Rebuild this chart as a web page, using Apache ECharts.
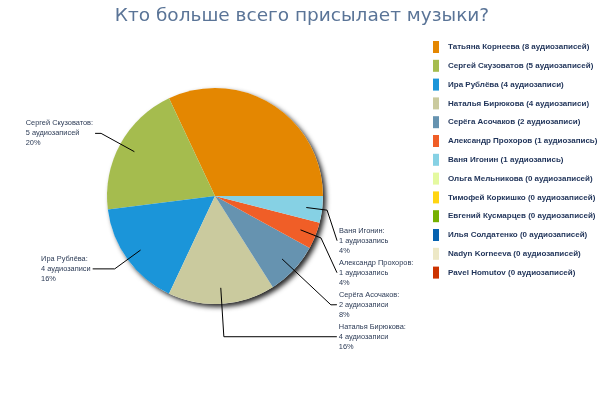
<!DOCTYPE html>
<html><head><meta charset="utf-8">
<script src="https://cdn.jsdelivr.net/npm/echarts@6/dist/echarts.min.js"></script>
<style>html,body{margin:0;padding:0;background:#fff}#c{width:604px;height:393px}</style>
</head><body><div id="c"></div>
<script>
const titleText = 'Кто больше всего присылает музыки?';
const names = ['Татьяна Корнеева','Сергей Скузоватов','Ира Рублёва','Наталья Бирюкова','Серёга Асочаков','Александр Прохоров','Ваня Игонин','Ольга Мельникова','Тимофей Коркишко','Евгений Кусмарцев','Илья Солдатенко','Nadyn Korneeva','Pavel Homutov'];
const counts = [8,5,4,4,2,1,1,0,0,0,0,0,0];
const colors = ['#E48701','#A5BC4E','#1B95D9','#CACA9E','#6693B0','#F05E27','#86D1E4','#E4F9A0','#FFD512','#75B000','#0662B0','#EDE8C6','#CC3300'];
const hiddenLabels = ['Татьяна Корнеева'];

function word(n){
  const m10 = n % 10, m100 = n % 100;
  if (m10 === 1 && m100 !== 11) return 'аудиозапись';
  if (m10 >= 2 && m10 <= 4 && (m100 < 10 || m100 >= 20)) return 'аудиозаписи';
  return 'аудиозаписей';
}

// label line styling (first segment, second segment lengths)
const lineLen = {
  'Сергей Скузоватов':[38,6], 'Ира Рублёва':[32,22], 'Наталья Бирюкова':[49,113],
  'Серёга Асочаков':[67,6], 'Александр Прохоров':[22,16], 'Ваня Игонин':[21,10]
};

const C = [215, 196], R = 108, RL = 92;
const placed = {};
function layoutLabel(p){
  const pts = p.labelLinePoints;
  if (!pts || pts.length < 3) return {};
  const right = pts[2][0] > pts[0][0];
  const prev = placed[p.dataIndex - 1];
  let y = pts[2][1];
  if (right && prev && prev.right) y = prev.y - (p.labelRect.height + 5);
  placed[p.dataIndex] = {y: y, right: right};
  return {y: y, labelLinePoints: [pts[0], pts[1], [pts[2][0], y]]};
}

const mainData = names.map((n, i) => ({name: n, value: counts[i]}));
const labelData = names.map((n, i) => ({name: n, value: counts[i]}))
  .filter(d => d.value > 0)
  .map(d => {
    const hide = hiddenLabels.indexOf(d.name) >= 0;
    const ll = lineLen[d.name] || [20, 10];
    return Object.assign(d, {
      label: {show: !hide},
      labelLine: {show: !hide, length: ll[0], length2: ll[1]}
    });
  });

const chart = echarts.init(document.getElementById('c'), null, {renderer: 'canvas'});
chart.setOption({
  animation: false,
  color: colors,
  title: {
    text: titleText, left: 'center', top: 2,
    textStyle: {fontFamily: 'DejaVu Sans', fontSize: 18.5, fontWeight: 'normal', color: '#5a7497'}
  },
  legend: {
    orient: 'vertical', left: 433, top: 41, padding: 0,
    itemWidth: 6, itemHeight: 12, itemGap: 6.8, icon: 'rect',
    data: names, selectedMode: false,
    formatter: n => { const c = counts[names.indexOf(n)]; return n + ' (' + c + ' ' + word(c) + ')'; },
    textStyle: {fontFamily: 'Liberation Sans', fontSize: 8, fontWeight: 'bold', color: '#1e3258', padding: [0,0,0,4]}
  },
  series: [
    {
      type: 'pie', name: 'shadow', center: C, radius: R, silent: true, z: 1,
      label: {show: false}, labelLine: {show: false}, legendHoverLink: false,
      emphasis: {disabled: true},
      itemStyle: {color: '#ffffff', shadowBlur: 5, shadowOffsetX: 3, shadowOffsetY: 3, shadowColor: 'rgba(0,0,0,0.85)'},
      data: [{name: '_shadow', value: 1}]
    },
    {
      type: 'pie', name: 'main', center: C, radius: R, startAngle: 0, clockwise: false, z: 2,
      label: {show: false}, labelLine: {show: false},
      emphasis: {scale: false},
      itemStyle: {borderWidth: 0},
      data: mainData
    },
    {
      type: 'pie', name: 'labels', center: C, radius: RL, startAngle: 0, clockwise: false, z: 3,
      silent: true, avoidLabelOverlap: false, legendHoverLink: false,
      itemStyle: {color: 'rgba(0,0,0,0)', borderWidth: 0},
      emphasis: {disabled: true},
      label: {
        show: true, position: 'outside', distanceToLabelLine: 2,
        formatter: p => '{t|' + p.name + ':}\n{t|' + p.value + ' ' + word(p.value) + '}\n{t|' + p.percent + '%}',
        rich: {t: {align: 'left', fontFamily: 'Liberation Sans', fontSize: 7.4, lineHeight: 10, color: '#2b3a55'}}
      },
      labelLine: {show: true, smooth: false, lineStyle: {color: '#000', width: 1}},
      labelLayout: layoutLabel,
      data: labelData
    }
  ]
});
</script></body></html>
